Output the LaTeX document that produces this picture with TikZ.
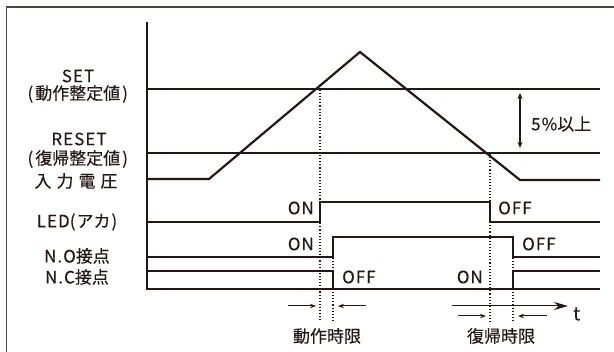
\documentclass[tikz,border=0pt]{standalone}
\usepackage{fontspec}
\setmainfont[FakeBold=0.2]{Noto Sans CJK JP}
\newfontfamily\latf[LetterSpace=6,FakeBold=0.15]{Noto Sans CJK JP}
\newcommand\LS[1]{{\latf #1}}
\newcommand\LP{\hspace{1.5pt}(\hspace{2pt}}
\newcommand\RP{\hspace{2pt})\hspace{1.5pt}}
\usetikzlibrary{arrows.meta}
\definecolor{ink}{HTML}{231815}
\definecolor{framec}{HTML}{4A4543}
\begin{document}
\begin{tikzpicture}[x=1pt,y=-1pt,
  wave/.style={draw=ink,line width=2.7pt,line join=miter},
  guide/.style={draw=ink,line width=1.1pt,dotted},
  lbl/.style={text=ink,font=\fontsize{17}{19}\selectfont,inner sep=0pt},
  small/.style={draw=ink,line width=1pt,-{Stealth[length=6pt,width=4.5pt]}},
  big/.style={draw=ink,line width=1pt,-{Stealth[length=14pt,width=8pt]}}]
\useasboundingbox (0,0) rectangle (614,352);
\draw[framec,line width=1.3pt] (6.5,360) -- (6.5,7) -- (620,7);
% axes
\coordinate (top) at (147,22);
\coordinate (o) at (147,289);
\coordinate (end) at (600,289);
\draw[wave] (top) -- (o) -- (end);
% SET / RESET levels
\coordinate (s0) at (147,89); \coordinate (s1) at (600,89);
\coordinate (r0) at (147,153); \coordinate (r1) at (600,153);
\draw[wave] (s0) -- (s1);
\draw[wave] (r0) -- (r1);
% input voltage
\coordinate (v0) at (147,179);
\coordinate (v1) at (209,179);
\coordinate (vp) at (360,52);
\coordinate (v2) at (520,180);
\coordinate (v3) at (600,180);
\draw[wave,line width=2.2pt] (v0) -- (v1) -- (vp) -- (v2) -- (v3);
% LED
\coordinate (l0) at (147,222);
\draw[wave] (l0) -- (320,222) -- (320,202) -- (490,202) -- (490,222) -- (600,222);
% N.O
\coordinate (n0) at (147,257);
\draw[wave] (n0) -- (333,257) -- (333,237) -- (513,237) -- (513,257) -- (600,257);
% N.C
\coordinate (c0) at (147,271);
\draw[wave] (c0) -- (333,271) -- (333,289);
\draw[wave] (513,289) -- (513,271) -- (600,271);
% guides
\coordinate (g1t) at (320,90); \coordinate (g1b) at (320,322);
\coordinate (g2t) at (333,258); \coordinate (g2b) at (333,322);
\coordinate (g3t) at (490,154); \coordinate (g3b) at (490,322);
\coordinate (g4t) at (513,258); \coordinate (g4b) at (513,322);
\draw[guide] (g1t) -- (g1b);
\draw[guide] (g2t) -- (g2b);
\draw[guide] (g3t) -- (g3b);
\draw[guide] (g4t) -- (g4b);
% 5% arrow
\coordinate (h1) at (520,93); \coordinate (h2) at (520,148);
\draw[draw=ink,line width=1.1pt,{Stealth[length=6pt,width=5pt]}-{Stealth[length=6pt,width=5pt]}] (h1) -- (h2);
\node[lbl,anchor=west] (pct) at (531,124) {\LS{5\%}以上};
% time axis
\coordinate (t0) at (452,306); \coordinate (t1) at (568,306);
\draw[big] (t0) -- (t1);
\node[lbl,anchor=west,font=\fontsize{18.5}{20}\selectfont] (tl) at (573,314) {\LS{t}};
% timing arrows
\coordinate (a1) at (288,306); \coordinate (a2) at (316,306);
\coordinate (a3) at (366,306); \coordinate (a4) at (338,306);
\draw[small] (a1) -- (a2);
\draw[small] (a3) -- (a4);
\coordinate (b1) at (458,316); \coordinate (b2) at (486,316);
\coordinate (b3) at (547,316); \coordinate (b4) at (518,316);
\draw[small] (b1) -- (b2);
\draw[small] (b3) -- (b4);
\node[lbl] (dt) at (327,336) {動作時限};
\node[lbl] (rt) at (501,336) {復帰時限};
% state labels
\node[lbl,anchor=east] (on1) at (314,208) {\LS{ON}};
\node[lbl,anchor=east] (on2) at (314,244) {\LS{ON}};
\node[lbl,anchor=west] (off1) at (342,277) {\LS{OFF}};
\node[lbl,anchor=east] (on3) at (483,277) {\LS{ON}};
\node[lbl,anchor=west] (off2) at (498,208) {\LS{OFF}};
\node[lbl,anchor=west] (off3) at (522,244) {\LS{OFF}};
% left labels
\node[lbl] (set) at (78,76) {\LS{SET}};
\node[lbl] (setv) at (77,94) {\LP 動作整定値\RP};
\node[lbl] (reset) at (79,139) {\LS{RESET}};
\node[lbl] (resetv) at (77,159) {\LP 復帰整定値\RP};
\node[lbl] (vin) at (76,181) {入\hspace{5pt}力\hspace{5pt}電\hspace{5pt}圧};
\node[lbl] (led) at (77,222) {\LS{LED}(\hspace{1pt}アカ\hspace{1pt})};
\node[lbl] (no) at (77,256) {\LS{N.O}接点};
\node[lbl] (nc) at (77,277) {\LS{N.C}接点};
\end{tikzpicture}
\end{document}
